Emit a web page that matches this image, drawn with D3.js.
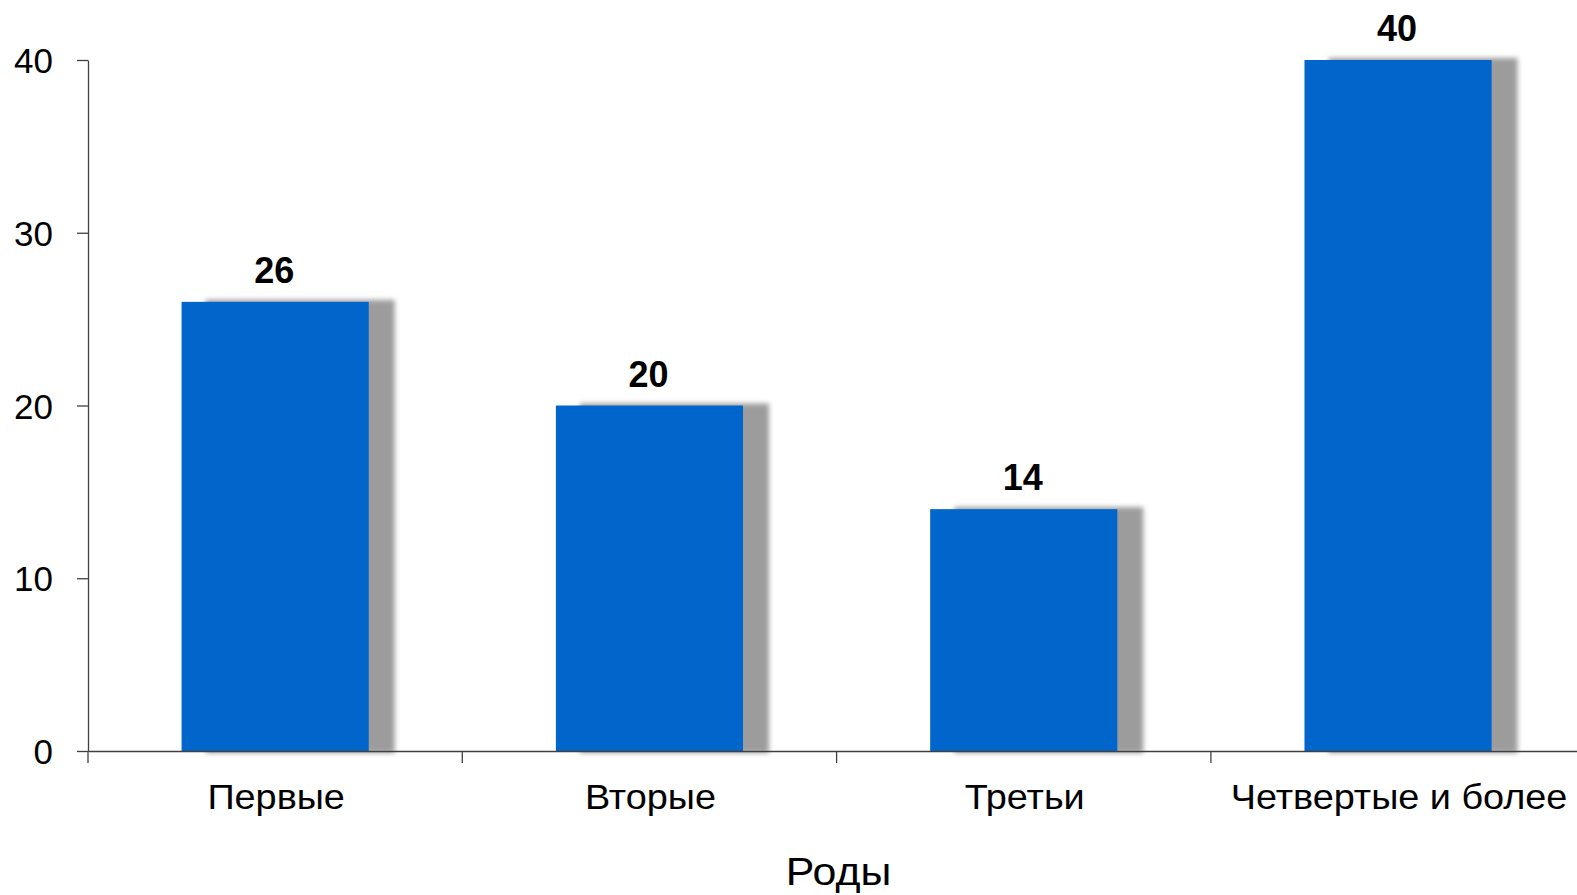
<!DOCTYPE html>
<html>
<head>
<meta charset="utf-8">
<script src="https://cdn.jsdelivr.net/npm/d3@7"></script>
<style>
  html, body { margin: 0; padding: 0; background: #fff; }
  svg { display: block; font-family: "Liberation Sans", Arial, sans-serif; }
</style>
</head>
<body>
<svg id="chart" width="1577" height="895"></svg>
<script>
const categories = ["Первые", "Вторые", "Третьи", "Четвертые и более"];
const values = [26, 20, 14, 40];
const yTicks = [0, 10, 20, 30, 40];
const xTitle = "Роды";

const svg = d3.select("#chart");
const x0 = 88, yTop = 60, yBase = 751, band = 374.3;

const x = d3.scaleBand().domain(categories).range([x0, x0 + band * categories.length]).paddingInner(0.5).paddingOuter(0.25);
const y = d3.scaleLinear().domain([0, 40]).range([yBase, yTop]);

const defs = svg.append("defs");
const f = defs.append("filter").attr("id", "blur").attr("x", "-20%").attr("y", "-20%").attr("width", "140%").attr("height", "140%");
f.append("feGaussianBlur").attr("stdDeviation", 2.5);

// shadows
svg.append("g").selectAll("rect").data(values).join("rect")
  .attr("x", (d, i) => x(categories[i]) + 24)
  .attr("y", d => y(d) - 2)
  .attr("width", x.bandwidth() + 2)
  .attr("height", d => yBase - y(d) + 4)
  .attr("fill", "#9c9c9c")
  .attr("filter", "url(#blur)");

// bars
svg.append("g").selectAll("rect").data(values).join("rect")
  .attr("x", (d, i) => x(categories[i]))
  .attr("y", d => y(d))
  .attr("width", x.bandwidth())
  .attr("height", d => yBase - y(d))
  .attr("fill", "#0066CC");

// value labels
svg.append("g").selectAll("text").data(values).join("text")
  .attr("x", (d, i) => x(categories[i]) + x.bandwidth() / 2 - 1)
  .attr("y", d => y(d) - 19)
  .attr("text-anchor", "middle")
  .attr("font-size", 36)
  .attr("font-weight", "bold")
  .attr("fill", "#000")
  .text(d => d);

// y axis
const yAxis = svg.append("g").attr("transform", `translate(${x0},0)`)
  .call(d3.axisLeft(y).tickValues(yTicks).tickSize(11).tickPadding(24).tickSizeOuter(0));
yAxis.select(".domain").attr("stroke", "#404040").attr("stroke-width", 1.3);
yAxis.selectAll(".tick line").attr("stroke", "#404040").attr("stroke-width", 1.3);
yAxis.selectAll(".tick text").attr("font-size", 35).attr("font-family", "Liberation Sans, Arial, sans-serif").attr("fill", "#000").attr("dy", "0.36em");

// x axis
const xAxis = svg.append("g").attr("transform", `translate(0,${yBase})`)
  .call(d3.axisBottom(x).tickSize(0).tickPadding(0).tickSizeOuter(0));
xAxis.select(".domain").attr("stroke", "#404040").attr("stroke-width", 1.3);
xAxis.selectAll(".tick text").attr("font-size", 35.5).attr("font-family", "Liberation Sans, Arial, sans-serif").attr("fill", "#000")
  .attr("y", 0).attr("dy", 0).attr("transform", "translate(1,58) scale(1.065,1)");
// category boundary ticks
const bounds = d3.range(categories.length + 1).map(i => x0 + band * i);
xAxis.append("g").selectAll("line").data(bounds).join("line")
  .attr("x1", d => d).attr("x2", d => d)
  .attr("y1", 0).attr("y2", 12)
  .attr("stroke", "#404040").attr("stroke-width", 1.3);

// axis title
const cx = (x0 + x0 + band * categories.length) / 2 + 2;
svg.append("text")
  .attr("transform", `translate(${cx},885) scale(1.1,1)`)
  .attr("text-anchor", "middle")
  .attr("font-size", 39)
  .attr("fill", "#000")
  .text(xTitle);
</script>
</body>
</html>
